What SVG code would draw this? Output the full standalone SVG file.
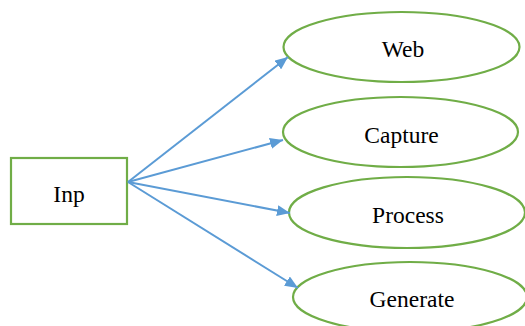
<svg xmlns="http://www.w3.org/2000/svg" width="525" height="326" viewBox="0 0 525 326">
<style>
.n{fill:#fff;stroke:#70AD47;stroke-width:2.2}
.t{font-family:"Liberation Serif","Times New Roman",serif;font-size:23.5px;fill:#000;text-anchor:middle}
.c{stroke:#5B9BD5;stroke-width:2;fill:none}
</style>
<defs>
<marker id="a" viewBox="0 0 13 11" refX="13" refY="5.5" markerWidth="13" markerHeight="11" markerUnits="userSpaceOnUse" orient="auto">
<path d="M0,0 L13,5.5 L0,11 z" fill="#5B9BD5"/>
</marker>
</defs>
<g id="inp"><rect class="n" x="11" y="158" width="116" height="66"/><text class="t" x="69" y="202">Inp</text></g>
<g id="web"><ellipse class="n" cx="401.5" cy="47" rx="118" ry="35"/><text class="t" x="403" y="57">Web</text></g>
<g id="capture"><ellipse class="n" cx="400.5" cy="132" rx="117.5" ry="35"/><text class="t" x="401.5" y="143">Capture</text></g>
<g id="process"><ellipse class="n" cx="407" cy="212.5" rx="118" ry="35.5"/><text class="t" x="408" y="223">Process</text></g>
<g id="generate"><ellipse class="n" cx="410" cy="297" rx="117" ry="35"/><text class="t" x="412" y="307">Generate</text></g>
<g id="connectors">
<line class="c" x1="128" y1="182" x2="288" y2="57" marker-end="url(#a)"/>
<line class="c" x1="128" y1="182" x2="283" y2="140" marker-end="url(#a)"/>
<line class="c" x1="128" y1="182" x2="290" y2="213" marker-end="url(#a)"/>
<line class="c" x1="128" y1="182" x2="298" y2="288" marker-end="url(#a)"/>
</g>
</svg>
